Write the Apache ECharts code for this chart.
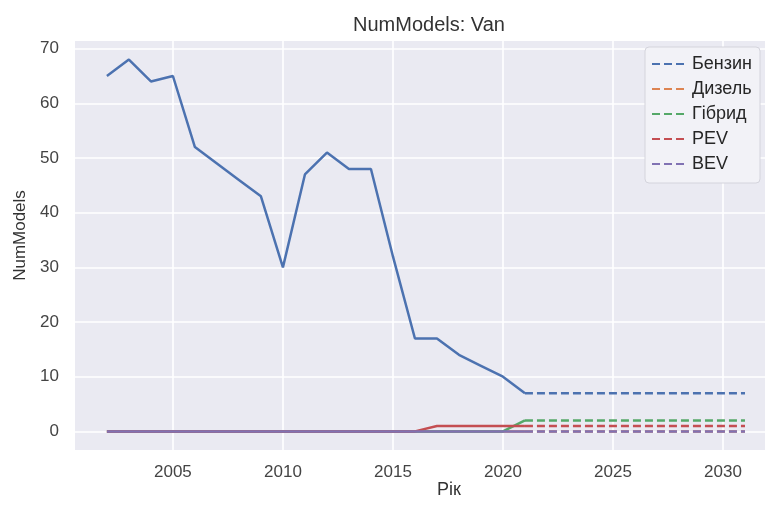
<!DOCTYPE html>
<html>
<head>
<meta charset="utf-8">
<script src="https://cdn.jsdelivr.net/npm/echarts@6/dist/echarts.min.js"></script>
<style>
  html, body { margin: 0; padding: 0; background: #ffffff; }
  #chart { width: 765px; height: 507px; }
</style>
</head>
<body>
<div id="chart"></div>
<script>
// Number of van models per fuel type: history (solid) and forecast (dashed)
const histYears = [2002, 2003, 2004, 2005, 2006, 2007, 2008, 2009, 2010, 2011,
                   2012, 2013, 2014, 2015, 2016, 2017, 2018, 2019, 2020, 2021];
const forecastYears = [2021, 2022, 2023, 2024, 2025, 2026, 2027, 2028, 2029, 2030, 2031];

const fuelNames = ['Бензин', 'Дизель', 'Гібрид', 'PEV', 'BEV'];
const fuelColors = ['#4C72B0', '#DD8452', '#55A868', '#C44E52', '#8172B3'];

const benzinHist = [65, 68, 64, 65, 52, 49, 46, 43, 30, 47, 51, 48, 48, 32, 17, 17, 14, 12, 10, 7];
const dieselHist = [0, 0, 0, 0, 0, 0, 0, 0, 0, 0, 0, 0, 0, 0, 0, 0, 0, 0, 0, 0];
const hybridHist = [0, 0, 0, 0, 0, 0, 0, 0, 0, 0, 0, 0, 0, 0, 0, 0, 0, 0, 0, 2];
const pevHist    = [0, 0, 0, 0, 0, 0, 0, 0, 0, 0, 0, 0, 0, 0, 0, 1, 1, 1, 1, 1];
const bevHist    = [0, 0, 0, 0, 0, 0, 0, 0, 0, 0, 0, 0, 0, 0, 0, 0, 0, 0, 0, 0];

const benzinForecast = [7, 7, 7, 7, 7, 7, 7, 7, 7, 7, 7];
const dieselForecast = [0, 0, 0, 0, 0, 0, 0, 0, 0, 0, 0];
const hybridForecast = [2, 2, 2, 2, 2, 2, 2, 2, 2, 2, 2];
const pevForecast    = [1, 1, 1, 1, 1, 1, 1, 1, 1, 1, 1];
const bevForecast    = [0, 0, 0, 0, 0, 0, 0, 0, 0, 0, 0];

const histValues = [benzinHist, dieselHist, hybridHist, pevHist, bevHist];
const forecastValues = [benzinForecast, dieselForecast, hybridForecast, pevForecast, bevForecast];

const FONT = '"Liberation Sans", Arial, sans-serif';

function pairs(xs, ys) {
  return xs.map((x, i) => [x, ys[i]]);
}

const series = [];
fuelNames.forEach((name, k) => {
  series.push({
    name: name + ' (історія)',
    type: 'line',
    data: pairs(histYears, histValues[k]),
    symbol: 'none',
    lineStyle: { color: fuelColors[k], width: 2.5, type: 'solid' },
    itemStyle: { color: fuelColors[k] },
    z: 2 + k
  });
  series.push({
    name: name,
    type: 'line',
    data: pairs(forecastYears, forecastValues[k]),
    symbol: 'none',
    lineStyle: { color: fuelColors[k], width: 2.5, type: [8, 4] },
    itemStyle: { color: fuelColors[k] },
    z: 2 + k
  });
});

const chart = echarts.init(document.getElementById('chart'), null, { renderer: 'canvas' });
chart.setOption({
  animation: false,
  backgroundColor: '#ffffff',
  title: {
    text: 'NumModels: Van',
    left: 424,
    textAlign: 'center',
    top: 10,
    textStyle: { fontFamily: FONT, fontSize: 20, fontWeight: 'normal', color: '#333333' }
  },
  grid: {
    left: 75, top: 41, right: 0, height: 409,
    show: true, backgroundColor: '#EAEAF2', borderWidth: 0
  },
  legend: {
    data: fuelNames,
    orient: 'vertical',
    left: 645, top: 47,
    itemWidth: 35, itemHeight: 14, itemGap: 7,
    padding: [8, 8, 10, 6],
    backgroundColor: '#F2F2F7',
    borderColor: '#D4D4DC', borderWidth: 1, borderRadius: 4,
    itemStyle: { opacity: 0 },
    textStyle: { fontFamily: FONT, fontSize: 18, color: '#262626', lineHeight: 18 }
  },
  xAxis: {
    type: 'value',
    min: 2000.55, max: 2031.91,
    splitNumber: 6,
    axisLine: { show: false },
    axisTick: { show: false },
    axisLabel: {
      showMinLabel: false, showMaxLabel: false,
      margin: 14,
      fontFamily: FONT, fontSize: 17, color: '#444444',
      formatter: v => String(v)
    },
    splitLine: { show: true, showMinLine: false, showMaxLine: false, lineStyle: { color: '#ffffff', width: 1.6 } }
  },
  yAxis: {
    type: 'value',
    min: -3.4, max: 71.4,
    splitNumber: 7,
    name: 'NumModels',
    nameLocation: 'middle',
    nameGap: 46,
    nameTextStyle: { fontFamily: FONT, fontSize: 17, color: '#333333', padding: [0, 0, 0, 20] },
    axisLine: { show: false },
    axisTick: { show: false },
    axisLabel: {
      showMinLabel: false, showMaxLabel: false,
      margin: 16,
      fontFamily: FONT, fontSize: 17, color: '#444444',
      formatter: v => String(v)
    },
    splitLine: { show: true, showMinLine: false, showMaxLine: false, lineStyle: { color: '#ffffff', width: 1.6 } }
  },
  graphic: [{
    type: 'text',
    left: 437, top: 481,
    style: { text: 'Рік', fontFamily: FONT, fontSize: 18, fill: '#333333' }
  }],
  series: series
});
</script>
</body>
</html>
